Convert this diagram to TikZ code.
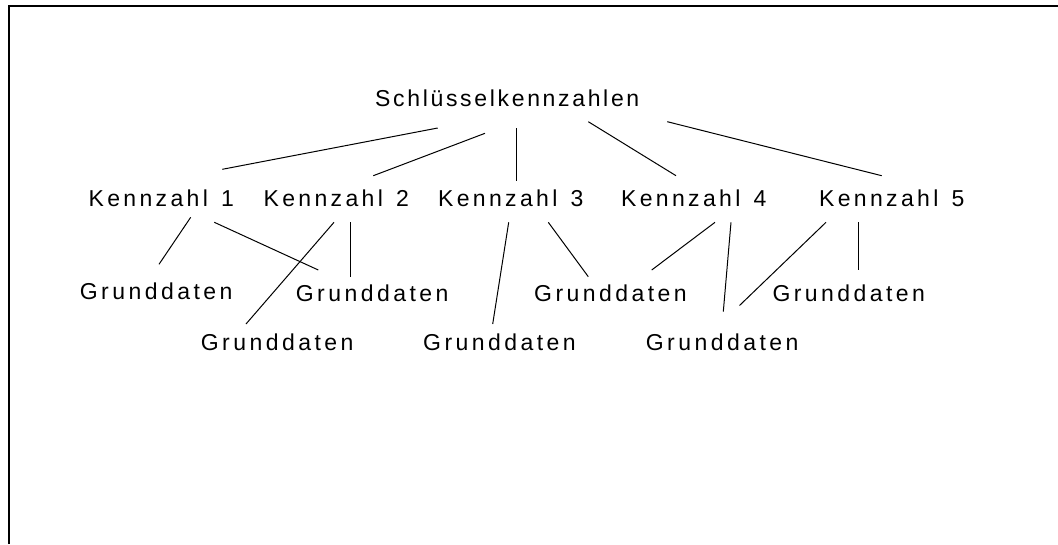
\documentclass[tikz,border=0pt]{standalone}
\usepackage{fontspec}
\usetikzlibrary{calc}
\newfontfamily\keyfont[LetterSpace=14.5,WordSpace=1.35]{Liberation Sans}
\newfontfamily\datafont[LetterSpace=15.0]{Liberation Sans}
\newfontfamily\titlefont[LetterSpace=11.6]{Liberation Sans}
\tikzset{
  lbl/.style={inner sep=0pt, anchor=base west, font=\keyfont\fontsize{23}{28}\selectfont},
  dat/.style={inner sep=0pt, anchor=base west, font=\datafont\fontsize{23}{28}\selectfont},
  ttl/.style={inner sep=0pt, anchor=base west, font=\titlefont\fontsize{23}{28}\selectfont},
  link/.style={draw=black, line width=1pt},
  frame/.style={draw=black, line width=2.5pt}
}
\begin{document}
\begin{tikzpicture}[x=1pt, y=-1pt]
\useasboundingbox (0,0) rectangle (1058,544);
% corner frame: top and left edges only
\coordinate (fl) at (9,544);
\coordinate (fc) at (9,6);
\coordinate (fr) at (1058,6);
\draw[frame] (fl) -- (fc) -- (fr);

% root
\node[ttl] (s) at (375,106) {Schlüsselkennzahlen};
% key figures
\node[lbl] (k1) at (88.5,206.7) {Kennzahl 1};
\node[lbl] (k2) at (263.5,206.7) {Kennzahl 2};
\node[lbl] (k3) at (438,206.7) {Kennzahl 3};
\node[lbl] (k4) at (621,206.7) {Kennzahl 4};
\node[lbl] (k5) at (819,206.7) {Kennzahl 5};
% base data, upper row
\node[dat] (g1) at (79.7,299.3) {Grunddaten};
\node[dat] (g2) at (295.7,301.7) {Grunddaten};
\node[dat] (g3) at (534,301.7) {Grunddaten};
\node[dat] (g4) at (772.3,301.7) {Grunddaten};
% base data, lower row
\node[dat] (g5) at (200.7,350) {Grunddaten};
\node[dat] (g6) at (423,350) {Grunddaten};
\node[dat] (g7) at (645.7,350) {Grunddaten};

% root to key figures
\draw[link] ($(s.base west)+(62.7,22)$) -- ($(k1.base west)+(133.8,-37.4)$);
\draw[link] ($(s.base west)+(110,27.3)$) -- ($(k2.base west)+(109.8,-31)$);
\draw[link] ($(s.base west)+(141.7,22)$) -- ($(k3.base west)+(78.7,-25.4)$);
\draw[link] ($(s.base west)+(213.3,15.7)$) -- ($(k4.base west)+(55,-31)$);
\draw[link] ($(s.base west)+(292.3,15.7)$) -- ($(k5.base west)+(62.7,-31)$);

% key figures to base data
\draw[link] ($(k1.base west)+(102.2,10.6)$) -- ($(g1.base west)+(79.3,-35)$);
\draw[link] ($(k1.base west)+(125.8,15.6)$) -- ($(g2.base west)+(22.6,-31.7)$);
\draw[link] ($(k2.base west)+(70.5,15.6)$) -- ($(g5.base west)+(45.3,-26)$);
\draw[link] ($(k2.base west)+(86.5,15.6)$) -- ($(g2.base west)+(54.3,-25)$);
\draw[link] ($(k3.base west)+(70.7,15.6)$) -- ($(g6.base west)+(69.7,-26)$);
\draw[link] ($(k3.base west)+(110.3,15.6)$) -- ($(g3.base west)+(54.3,-25)$);
\draw[link] ($(k4.base west)+(94,15.6)$) -- ($(g3.base west)+(117.7,-31.7)$);
\draw[link] ($(k4.base west)+(110,15.6)$) -- ($(g7.base west)+(77.6,-38.3)$);
\draw[link] ($(k5.base west)+(7,15.6)$) -- ($(g7.base west)+(93.8,-44.5)$);
\draw[link] ($(k5.base west)+(39.3,15.6)$) -- ($(g4.base west)+(86,-31.7)$);
\end{tikzpicture}
\end{document}
